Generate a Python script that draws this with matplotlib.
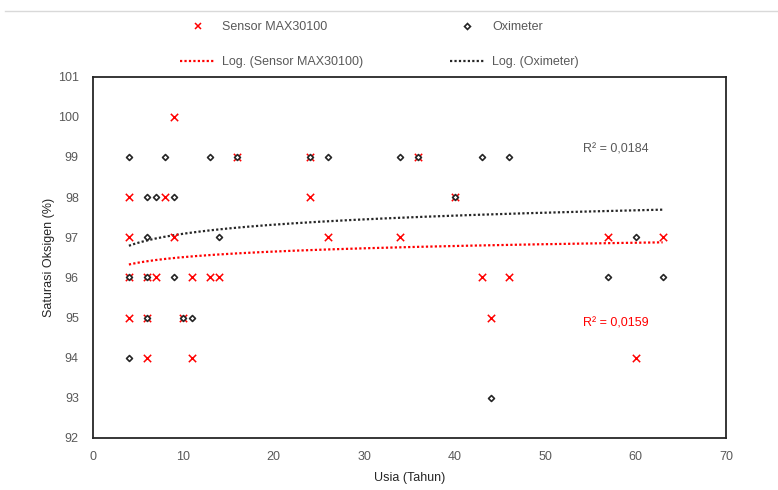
import matplotlib
matplotlib.use("Agg")
import matplotlib.pyplot as plt
from matplotlib.lines import Line2D
import numpy as np

plt.rcParams['font.family'] = ['Liberation Sans', 'DejaVu Sans']

# data
usia_sensor = [4, 4, 4, 4, 6, 6, 6, 7, 8, 9, 9, 10, 11, 11, 13, 14, 16, 24, 24, 26, 34, 36, 40, 43, 44, 46, 57, 60, 63]
spo2_sensor = [98, 97, 96, 95, 96, 95, 94, 96, 98, 100, 97, 95, 96, 94, 96, 96, 99, 99, 98, 97, 97, 99, 98, 96, 95, 96, 97, 94, 97]

usia_oxi = [4, 4, 4, 6, 6, 6, 6, 7, 8, 9, 9, 10, 11, 13, 14, 16, 24, 26, 34, 36, 40, 43, 44, 46, 57, 60, 63]
spo2_oxi = [99, 96, 94, 98, 97, 96, 95, 98, 99, 98, 96, 95, 95, 99, 97, 99, 99, 99, 99, 99, 98, 99, 93, 99, 96, 97, 96]

label_sensor = "Sensor MAX30100"
label_oxi = "Oximeter"
r2_sensor = "R² = 0,0159"
r2_oxi = "R² = 0,0184"

W, H = 778, 490
fig = plt.figure(figsize=(W / 100, H / 100), dpi=100)
ax = fig.add_axes([92.7 / W, 1 - 438 / H, (726 - 92.7) / W, (438 - 76.7) / H])

red = '#FF0000'
dark = '#262626'
grey = '#595959'


def log_trend(x, y):
    # excel style logarithmic trendline: y = a*ln(x) + b
    a, b = np.polyfit(np.log(x), y, 1)
    xs = np.linspace(min(x), max(x), 200)
    return xs, a * np.log(xs) + b


ax.scatter(usia_sensor, spo2_sensor, marker='x', s=28, color=red, linewidths=1.1, zorder=3)
ax.scatter(usia_oxi, spo2_oxi, marker='D', s=9, facecolor='white', edgecolor=dark, linewidths=1.2, zorder=4)

xs, ys = log_trend(usia_sensor, spo2_sensor)
ax.plot(xs, ys, color=red, lw=1.6, linestyle=(0, (1, 1)), zorder=2)
xs, ys = log_trend(usia_oxi, spo2_oxi)
ax.plot(xs, ys, color=dark, lw=1.6, linestyle=(0, (1, 1)), zorder=2)

ax.set_xlim(0, 70)
ax.set_ylim(92, 101)
ax.set_xticks(range(0, 71, 10))
ax.set_yticks(range(92, 102))
ax.tick_params(length=0, labelsize=9, colors=grey, pad=10)
ax.tick_params(axis='x', pad=9)
for s in ax.spines.values():
    s.set_color(dark)
    s.set_linewidth(1.3)

ax.set_xlabel("Usia (Tahun)", fontsize=9, color=dark, labelpad=7)
ax.set_ylabel("Saturasi Oksigen (%)", fontsize=9, color=dark, labelpad=2)

ax.text(583, H - 149, r2_oxi, transform=None, fontsize=9, color=grey, va='center')
ax.text(583, H - 323, r2_sensor, transform=None, fontsize=9, color=red, va='center')

handles = [
    Line2D([], [], marker='x', ls='none', color=red, ms=5, mew=1.1),
    Line2D([], [], color=red, lw=1.6, ls=(0, (1, 1))),
    Line2D([], [], marker='D', ls='none', mfc='white', mec=dark, ms=3, mew=1.2),
    Line2D([], [], color=dark, lw=1.6, ls=(0, (1, 1))),
]
labels = [label_sensor, "Log. (" + label_sensor + ")", label_oxi, "Log. (" + label_oxi + ")"]
fig.legend(handles, labels, ncol=2, loc='upper left', bbox_to_anchor=(180 / W, 1 - 21 / H),
           frameon=False, fontsize=9, handlelength=2.8, handletextpad=0.6,
           columnspacing=6.9, labelspacing=1.85, borderpad=0, borderaxespad=0,
           labelcolor=grey)

# faint chart area border line at the top
fig.add_artist(Line2D([5 / W, 1], [1 - 11 / H, 1 - 11 / H], color='#D9D9D9', lw=1))

fig.savefig("out.png", dpi=100)
